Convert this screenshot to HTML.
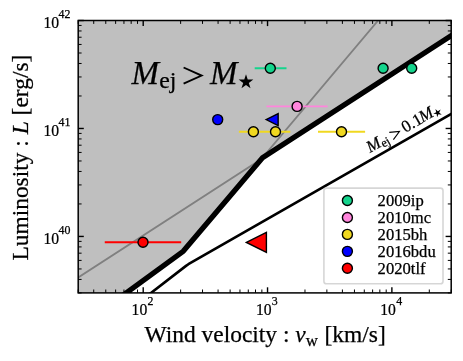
<!DOCTYPE html>
<html><head><meta charset="utf-8"><title>plot</title>
<style>html,body{margin:0;padding:0;background:#fff;}svg{display:block;will-change:transform;}text{font-family:"Liberation Serif",serif;fill:#000;stroke:#000;stroke-width:0.25px;}</style>
</head><body>
<svg width="463" height="361" viewBox="0 0 463 361">
<rect x="0" y="0" width="463" height="361" fill="#fff"/>
<defs><clipPath id="ax"><rect x="78.2" y="20.5" width="373.0" height="272.4"/></clipPath></defs>
<g clip-path="url(#ax)">
<polygon points="100.00,312.10 183.20,251.30 262.50,157.80 470.00,23.40 470.00,0.00 0.00,0.00 0.00,400.00 100.00,400.00" fill="#bfbfbf"/>
<polyline points="60.00,289.20 261.10,159.30 390.00,6.40" fill="none" stroke="#808080" stroke-width="1.8"/>
<polyline points="100.00,312.10 183.20,251.30 262.50,157.80 470.00,23.40" fill="none" stroke="#000" stroke-width="5.3" stroke-linejoin="miter"/>
<polyline points="126.10,312.20 186.00,265.90 188.40,264.20 191.00,262.70 470.00,103.25" fill="none" stroke="#000" stroke-width="2.6" stroke-linejoin="round"/>
</g>
<line x1="254.70" y1="68.20" x2="286.50" y2="68.20" stroke="#14d48c" stroke-width="1.9"/>
<circle cx="270.30" cy="68.20" r="5.0" fill="#14d48c" stroke="#000" stroke-width="1.4"/>
<circle cx="383.10" cy="68.30" r="5.0" fill="#14d48c" stroke="#000" stroke-width="1.4"/>
<circle cx="411.70" cy="68.30" r="5.0" fill="#14d48c" stroke="#000" stroke-width="1.4"/>
<line x1="266.50" y1="106.40" x2="327.60" y2="106.40" stroke="#ff85dc" stroke-width="1.9"/>
<circle cx="297.10" cy="106.40" r="5.0" fill="#ff85dc" stroke="#000" stroke-width="1.4"/>
<line x1="238.90" y1="131.80" x2="290.30" y2="131.80" stroke="#f0d820" stroke-width="1.9"/>
<line x1="318.00" y1="131.80" x2="365.10" y2="131.80" stroke="#f0d820" stroke-width="1.9"/>
<circle cx="253.40" cy="131.80" r="5.0" fill="#f0d820" stroke="#000" stroke-width="1.4"/>
<circle cx="275.50" cy="131.80" r="5.0" fill="#f0d820" stroke="#000" stroke-width="1.4"/>
<circle cx="341.50" cy="131.80" r="5.0" fill="#f0d820" stroke="#000" stroke-width="1.4"/>
<circle cx="217.70" cy="119.60" r="5.0" fill="#0000ff" stroke="#000" stroke-width="1.4"/>
<polygon points="266.15,119.60 278.15,113.60 278.15,125.60" fill="#0000ff" stroke="#000" stroke-width="1.4" stroke-linejoin="miter"/>
<line x1="104.75" y1="242.30" x2="181.20" y2="242.30" stroke="#ff0000" stroke-width="1.9"/>
<circle cx="143.00" cy="242.30" r="5.0" fill="#ff0000" stroke="#000" stroke-width="1.4"/>
<polygon points="246.40,242.40 266.40,232.40 266.40,252.40" fill="#ff0000" stroke="#000" stroke-width="1.4" stroke-linejoin="miter"/>
<line x1="78.20" y1="292.9" x2="78.20" y2="289.5" stroke="#000" stroke-width="1.0"/>
<line x1="78.20" y1="20.5" x2="78.20" y2="23.9" stroke="#000" stroke-width="1.0"/>
<line x1="93.73" y1="292.9" x2="93.73" y2="289.5" stroke="#000" stroke-width="1.0"/>
<line x1="93.73" y1="20.5" x2="93.73" y2="23.9" stroke="#000" stroke-width="1.0"/>
<line x1="105.78" y1="292.9" x2="105.78" y2="289.5" stroke="#000" stroke-width="1.0"/>
<line x1="105.78" y1="20.5" x2="105.78" y2="23.9" stroke="#000" stroke-width="1.0"/>
<line x1="115.63" y1="292.9" x2="115.63" y2="289.5" stroke="#000" stroke-width="1.0"/>
<line x1="115.63" y1="20.5" x2="115.63" y2="23.9" stroke="#000" stroke-width="1.0"/>
<line x1="123.95" y1="292.9" x2="123.95" y2="289.5" stroke="#000" stroke-width="1.0"/>
<line x1="123.95" y1="20.5" x2="123.95" y2="23.9" stroke="#000" stroke-width="1.0"/>
<line x1="131.16" y1="292.9" x2="131.16" y2="289.5" stroke="#000" stroke-width="1.0"/>
<line x1="131.16" y1="20.5" x2="131.16" y2="23.9" stroke="#000" stroke-width="1.0"/>
<line x1="137.52" y1="292.9" x2="137.52" y2="289.5" stroke="#000" stroke-width="1.0"/>
<line x1="137.52" y1="20.5" x2="137.52" y2="23.9" stroke="#000" stroke-width="1.0"/>
<line x1="143.21" y1="292.9" x2="143.21" y2="287.29999999999995" stroke="#000" stroke-width="1.4"/>
<line x1="143.21" y1="20.5" x2="143.21" y2="26.1" stroke="#000" stroke-width="1.4"/>
<line x1="180.64" y1="292.9" x2="180.64" y2="289.5" stroke="#000" stroke-width="1.0"/>
<line x1="180.64" y1="20.5" x2="180.64" y2="23.9" stroke="#000" stroke-width="1.0"/>
<line x1="202.53" y1="292.9" x2="202.53" y2="289.5" stroke="#000" stroke-width="1.0"/>
<line x1="202.53" y1="20.5" x2="202.53" y2="23.9" stroke="#000" stroke-width="1.0"/>
<line x1="218.07" y1="292.9" x2="218.07" y2="289.5" stroke="#000" stroke-width="1.0"/>
<line x1="218.07" y1="20.5" x2="218.07" y2="23.9" stroke="#000" stroke-width="1.0"/>
<line x1="230.12" y1="292.9" x2="230.12" y2="289.5" stroke="#000" stroke-width="1.0"/>
<line x1="230.12" y1="20.5" x2="230.12" y2="23.9" stroke="#000" stroke-width="1.0"/>
<line x1="239.96" y1="292.9" x2="239.96" y2="289.5" stroke="#000" stroke-width="1.0"/>
<line x1="239.96" y1="20.5" x2="239.96" y2="23.9" stroke="#000" stroke-width="1.0"/>
<line x1="248.29" y1="292.9" x2="248.29" y2="289.5" stroke="#000" stroke-width="1.0"/>
<line x1="248.29" y1="20.5" x2="248.29" y2="23.9" stroke="#000" stroke-width="1.0"/>
<line x1="255.50" y1="292.9" x2="255.50" y2="289.5" stroke="#000" stroke-width="1.0"/>
<line x1="255.50" y1="20.5" x2="255.50" y2="23.9" stroke="#000" stroke-width="1.0"/>
<line x1="261.86" y1="292.9" x2="261.86" y2="289.5" stroke="#000" stroke-width="1.0"/>
<line x1="261.86" y1="20.5" x2="261.86" y2="23.9" stroke="#000" stroke-width="1.0"/>
<line x1="267.54" y1="292.9" x2="267.54" y2="287.29999999999995" stroke="#000" stroke-width="1.4"/>
<line x1="267.54" y1="20.5" x2="267.54" y2="26.1" stroke="#000" stroke-width="1.4"/>
<line x1="304.97" y1="292.9" x2="304.97" y2="289.5" stroke="#000" stroke-width="1.0"/>
<line x1="304.97" y1="20.5" x2="304.97" y2="23.9" stroke="#000" stroke-width="1.0"/>
<line x1="326.87" y1="292.9" x2="326.87" y2="289.5" stroke="#000" stroke-width="1.0"/>
<line x1="326.87" y1="20.5" x2="326.87" y2="23.9" stroke="#000" stroke-width="1.0"/>
<line x1="342.40" y1="292.9" x2="342.40" y2="289.5" stroke="#000" stroke-width="1.0"/>
<line x1="342.40" y1="20.5" x2="342.40" y2="23.9" stroke="#000" stroke-width="1.0"/>
<line x1="354.45" y1="292.9" x2="354.45" y2="289.5" stroke="#000" stroke-width="1.0"/>
<line x1="354.45" y1="20.5" x2="354.45" y2="23.9" stroke="#000" stroke-width="1.0"/>
<line x1="364.29" y1="292.9" x2="364.29" y2="289.5" stroke="#000" stroke-width="1.0"/>
<line x1="364.29" y1="20.5" x2="364.29" y2="23.9" stroke="#000" stroke-width="1.0"/>
<line x1="372.62" y1="292.9" x2="372.62" y2="289.5" stroke="#000" stroke-width="1.0"/>
<line x1="372.62" y1="20.5" x2="372.62" y2="23.9" stroke="#000" stroke-width="1.0"/>
<line x1="379.83" y1="292.9" x2="379.83" y2="289.5" stroke="#000" stroke-width="1.0"/>
<line x1="379.83" y1="20.5" x2="379.83" y2="23.9" stroke="#000" stroke-width="1.0"/>
<line x1="386.19" y1="292.9" x2="386.19" y2="289.5" stroke="#000" stroke-width="1.0"/>
<line x1="386.19" y1="20.5" x2="386.19" y2="23.9" stroke="#000" stroke-width="1.0"/>
<line x1="391.88" y1="292.9" x2="391.88" y2="287.29999999999995" stroke="#000" stroke-width="1.4"/>
<line x1="391.88" y1="20.5" x2="391.88" y2="26.1" stroke="#000" stroke-width="1.4"/>
<line x1="429.31" y1="292.9" x2="429.31" y2="289.5" stroke="#000" stroke-width="1.0"/>
<line x1="429.31" y1="20.5" x2="429.31" y2="23.9" stroke="#000" stroke-width="1.0"/>
<line x1="451.20" y1="292.9" x2="451.20" y2="289.5" stroke="#000" stroke-width="1.0"/>
<line x1="451.20" y1="20.5" x2="451.20" y2="23.9" stroke="#000" stroke-width="1.0"/>
<line x1="78.2" y1="292.90" x2="81.60000000000001" y2="292.90" stroke="#000" stroke-width="1.0"/>
<line x1="451.2" y1="292.90" x2="447.8" y2="292.90" stroke="#000" stroke-width="1.0"/>
<line x1="78.2" y1="279.41" x2="81.60000000000001" y2="279.41" stroke="#000" stroke-width="1.0"/>
<line x1="451.2" y1="279.41" x2="447.8" y2="279.41" stroke="#000" stroke-width="1.0"/>
<line x1="78.2" y1="268.95" x2="81.60000000000001" y2="268.95" stroke="#000" stroke-width="1.0"/>
<line x1="451.2" y1="268.95" x2="447.8" y2="268.95" stroke="#000" stroke-width="1.0"/>
<line x1="78.2" y1="260.40" x2="81.60000000000001" y2="260.40" stroke="#000" stroke-width="1.0"/>
<line x1="451.2" y1="260.40" x2="447.8" y2="260.40" stroke="#000" stroke-width="1.0"/>
<line x1="78.2" y1="253.17" x2="81.60000000000001" y2="253.17" stroke="#000" stroke-width="1.0"/>
<line x1="451.2" y1="253.17" x2="447.8" y2="253.17" stroke="#000" stroke-width="1.0"/>
<line x1="78.2" y1="246.91" x2="81.60000000000001" y2="246.91" stroke="#000" stroke-width="1.0"/>
<line x1="451.2" y1="246.91" x2="447.8" y2="246.91" stroke="#000" stroke-width="1.0"/>
<line x1="78.2" y1="241.38" x2="81.60000000000001" y2="241.38" stroke="#000" stroke-width="1.0"/>
<line x1="451.2" y1="241.38" x2="447.8" y2="241.38" stroke="#000" stroke-width="1.0"/>
<line x1="78.2" y1="236.44" x2="83.8" y2="236.44" stroke="#000" stroke-width="1.4"/>
<line x1="451.2" y1="236.44" x2="445.59999999999997" y2="236.44" stroke="#000" stroke-width="1.4"/>
<line x1="78.2" y1="203.94" x2="81.60000000000001" y2="203.94" stroke="#000" stroke-width="1.0"/>
<line x1="451.2" y1="203.94" x2="447.8" y2="203.94" stroke="#000" stroke-width="1.0"/>
<line x1="78.2" y1="184.93" x2="81.60000000000001" y2="184.93" stroke="#000" stroke-width="1.0"/>
<line x1="451.2" y1="184.93" x2="447.8" y2="184.93" stroke="#000" stroke-width="1.0"/>
<line x1="78.2" y1="171.44" x2="81.60000000000001" y2="171.44" stroke="#000" stroke-width="1.0"/>
<line x1="451.2" y1="171.44" x2="447.8" y2="171.44" stroke="#000" stroke-width="1.0"/>
<line x1="78.2" y1="160.97" x2="81.60000000000001" y2="160.97" stroke="#000" stroke-width="1.0"/>
<line x1="451.2" y1="160.97" x2="447.8" y2="160.97" stroke="#000" stroke-width="1.0"/>
<line x1="78.2" y1="152.43" x2="81.60000000000001" y2="152.43" stroke="#000" stroke-width="1.0"/>
<line x1="451.2" y1="152.43" x2="447.8" y2="152.43" stroke="#000" stroke-width="1.0"/>
<line x1="78.2" y1="145.20" x2="81.60000000000001" y2="145.20" stroke="#000" stroke-width="1.0"/>
<line x1="451.2" y1="145.20" x2="447.8" y2="145.20" stroke="#000" stroke-width="1.0"/>
<line x1="78.2" y1="138.94" x2="81.60000000000001" y2="138.94" stroke="#000" stroke-width="1.0"/>
<line x1="451.2" y1="138.94" x2="447.8" y2="138.94" stroke="#000" stroke-width="1.0"/>
<line x1="78.2" y1="133.41" x2="81.60000000000001" y2="133.41" stroke="#000" stroke-width="1.0"/>
<line x1="451.2" y1="133.41" x2="447.8" y2="133.41" stroke="#000" stroke-width="1.0"/>
<line x1="78.2" y1="128.47" x2="83.8" y2="128.47" stroke="#000" stroke-width="1.4"/>
<line x1="451.2" y1="128.47" x2="445.59999999999997" y2="128.47" stroke="#000" stroke-width="1.4"/>
<line x1="78.2" y1="95.97" x2="81.60000000000001" y2="95.97" stroke="#000" stroke-width="1.0"/>
<line x1="451.2" y1="95.97" x2="447.8" y2="95.97" stroke="#000" stroke-width="1.0"/>
<line x1="78.2" y1="76.96" x2="81.60000000000001" y2="76.96" stroke="#000" stroke-width="1.0"/>
<line x1="451.2" y1="76.96" x2="447.8" y2="76.96" stroke="#000" stroke-width="1.0"/>
<line x1="78.2" y1="63.47" x2="81.60000000000001" y2="63.47" stroke="#000" stroke-width="1.0"/>
<line x1="451.2" y1="63.47" x2="447.8" y2="63.47" stroke="#000" stroke-width="1.0"/>
<line x1="78.2" y1="53.00" x2="81.60000000000001" y2="53.00" stroke="#000" stroke-width="1.0"/>
<line x1="451.2" y1="53.00" x2="447.8" y2="53.00" stroke="#000" stroke-width="1.0"/>
<line x1="78.2" y1="44.45" x2="81.60000000000001" y2="44.45" stroke="#000" stroke-width="1.0"/>
<line x1="451.2" y1="44.45" x2="447.8" y2="44.45" stroke="#000" stroke-width="1.0"/>
<line x1="78.2" y1="37.23" x2="81.60000000000001" y2="37.23" stroke="#000" stroke-width="1.0"/>
<line x1="451.2" y1="37.23" x2="447.8" y2="37.23" stroke="#000" stroke-width="1.0"/>
<line x1="78.2" y1="30.96" x2="81.60000000000001" y2="30.96" stroke="#000" stroke-width="1.0"/>
<line x1="451.2" y1="30.96" x2="447.8" y2="30.96" stroke="#000" stroke-width="1.0"/>
<line x1="78.2" y1="25.44" x2="81.60000000000001" y2="25.44" stroke="#000" stroke-width="1.0"/>
<line x1="451.2" y1="25.44" x2="447.8" y2="25.44" stroke="#000" stroke-width="1.0"/>
<line x1="78.2" y1="20.50" x2="83.8" y2="20.50" stroke="#000" stroke-width="1.4"/>
<line x1="451.2" y1="20.50" x2="445.59999999999997" y2="20.50" stroke="#000" stroke-width="1.4"/>
<rect x="78.2" y="20.5" width="373.0" height="272.4" fill="none" stroke="#000" stroke-width="1.5"/>
<text transform="translate(131.61,315.40) scale(0.9,0.98)" font-size="17.4">10</text>
<text x="147.51" y="305.20" font-size="11.9">2</text>
<text transform="translate(255.94,315.40) scale(0.9,0.98)" font-size="17.4">10</text>
<text x="271.84" y="305.20" font-size="11.9">3</text>
<text transform="translate(380.28,315.40) scale(0.9,0.98)" font-size="17.4">10</text>
<text x="396.18" y="305.20" font-size="11.9">4</text>
<text transform="translate(43.40,244.14) scale(0.9,0.98)" font-size="17.4">10</text>
<text x="58.60" y="233.74" font-size="11.9">40</text>
<text transform="translate(43.40,136.17) scale(0.9,0.98)" font-size="17.4">10</text>
<text x="58.60" y="125.77" font-size="11.9">41</text>
<text transform="translate(43.40,28.20) scale(0.9,0.98)" font-size="17.4">10</text>
<text x="58.60" y="17.80" font-size="11.9">42</text>
<text x="144.6" y="342.0" font-size="23.45">Wind velocity : <tspan font-style="italic">v</tspan><tspan dy="4.0" font-size="16.88">w</tspan><tspan dy="-4.0" dx="0.8"> [km/s]</tspan></text>
<text transform="translate(28.4,260.6) rotate(-90)" font-size="23.45">Luminosity : <tspan font-style="italic">L</tspan> [erg/s]</text>
<text x="131.4" y="83.7" font-size="33" font-style="italic" stroke-width="0.55">M</text>
<text x="159.2" y="88.1" font-size="23.8" stroke-width="0.45">ej</text>
<polyline points="183.6,67.5 201.6,75.6 183.6,83.7" fill="none" stroke="#000" stroke-width="1.9" stroke-linejoin="miter" stroke-miterlimit="10"/>
<text x="210.0" y="83.7" font-size="33" font-style="italic" stroke-width="0.55">M</text>
<polygon points="246.00,74.30 247.73,79.62 253.32,79.62 248.80,82.91 250.53,88.23 246.00,84.94 241.47,88.23 243.20,82.91 238.68,79.62 244.27,79.62" fill="#000"/>
<g transform="translate(370.0,152.9) rotate(-29.5) scale(1.03)"><text x="0" y="0" font-size="16.5" font-style="italic">M</text><text x="13.9" y="2.2" font-size="11.9">ej</text><polyline points="26.1,-8.1 35.1,-4.05 26.1,0" fill="none" stroke="#000" stroke-width="1.1" stroke-linejoin="miter" stroke-miterlimit="10"/><text x="39.3" y="0" font-size="16.5">0.1</text><text x="58.7" y="-0.3" font-size="16.5" font-style="italic">M</text><polygon points="76.30,-5.90 77.18,-2.71 80.48,-2.86 77.72,-1.04 78.89,2.06 76.30,-0.00 73.71,2.06 74.88,-1.04 72.12,-2.86 75.42,-2.71" fill="#000"/></g>
<rect x="323.9" y="188.1" width="119.1" height="95.7" rx="2.6" ry="2.6" fill="#fff" fill-opacity="0.8" stroke="#cccccc" stroke-opacity="0.8" stroke-width="1.6"/>
<circle cx="347.40" cy="200.50" r="5.0" fill="#14d48c" stroke="#000" stroke-width="1.4"/>
<text x="377.6" y="206.20" font-size="16.6">2009ip</text>
<circle cx="347.40" cy="217.45" r="5.0" fill="#ff85dc" stroke="#000" stroke-width="1.4"/>
<text x="377.6" y="223.15" font-size="16.6">2010mc</text>
<circle cx="347.40" cy="234.40" r="5.0" fill="#f0d820" stroke="#000" stroke-width="1.4"/>
<text x="377.6" y="240.10" font-size="16.6">2015bh</text>
<circle cx="347.40" cy="251.35" r="5.0" fill="#0000ff" stroke="#000" stroke-width="1.4"/>
<text x="377.6" y="257.05" font-size="16.6">2016bdu</text>
<circle cx="347.40" cy="268.30" r="5.0" fill="#ff0000" stroke="#000" stroke-width="1.4"/>
<text x="377.6" y="274.00" font-size="16.6">2020tlf</text>
</svg></body></html>
